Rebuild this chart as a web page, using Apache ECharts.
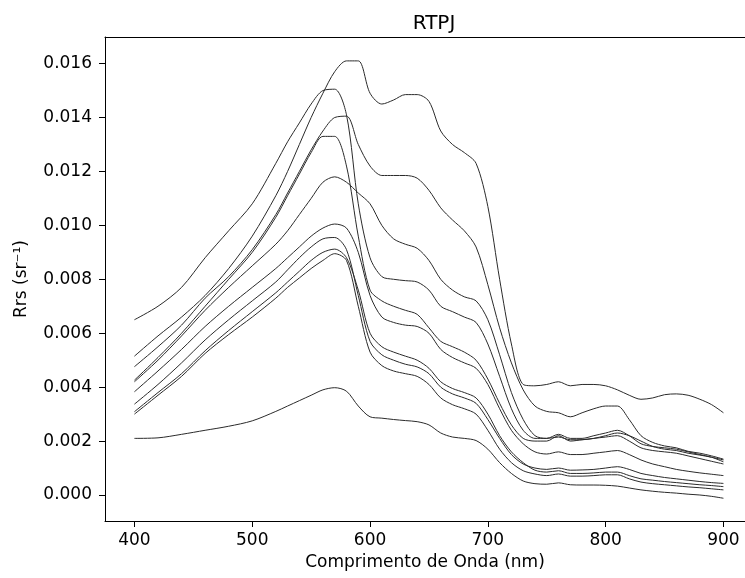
<!DOCTYPE html>
<html>
<head>
<meta charset="utf-8">
<script src="https://cdn.jsdelivr.net/npm/echarts@6/dist/echarts.min.js"></script>
<style>
  html, body { margin: 0; padding: 0; background: #fff; }
  #chart { width: 745px; height: 578px; }
</style>
</head>
<body>
<div id="chart"></div>
<script>
// wavelengths (nm) shared by every spectrum
const wavelengths = [400, 420, 440, 460, 480, 500,
  520, 530, 540, 550, 560, 570, 580, 590, 600, 610, 620, 630, 640, 650,
  660, 670, 680, 690, 700, 710, 720, 730, 740, 750, 760, 770, 780, 790,
  800, 810, 820, 830, 840, 850, 860, 870, 880, 890, 900];

// Rrs (sr^-1) per station
const rrs1 = [0.00515, 0.0059, 0.0066, 0.0074, 0.0084, 0.0096,
  0.0111, 0.0120, 0.0130, 0.0140, 0.0149, 0.0157, 0.0161, 0.0161, 0.0149, 0.0145, 0.01465, 0.01485, 0.01485, 0.0146,
  0.0135, 0.0130, 0.0127, 0.0123, 0.0107, 0.0080, 0.0056, 0.0041, 0.00405, 0.0041, 0.0042, 0.00405, 0.0041, 0.0041,
  0.00405, 0.0039, 0.0037, 0.00355, 0.0036, 0.00372, 0.00375, 0.0037, 0.00355, 0.00335, 0.00305];
const rrs2 = [0.0065, 0.0070, 0.0077, 0.0088, 0.0098, 0.0108,
  0.0123, 0.0131, 0.0138, 0.0145, 0.0150, 0.01505, 0.0141, 0.0108, 0.0088, 0.0081, 0.0080, 0.00795, 0.0079, 0.0076,
  0.0070, 0.0068, 0.0066, 0.0064, 0.0056, 0.0044, 0.0032, 0.0024, 0.0021, 0.0021, 0.00225, 0.0021, 0.0021, 0.0022,
  0.0023, 0.0024, 0.0022, 0.0019, 0.0018, 0.00175, 0.0017, 0.0016, 0.0015, 0.0014, 0.00123];
const rrs3 = [0.00476, 0.0055, 0.0063, 0.0073, 0.0081, 0.0091,
  0.0104, 0.0112, 0.0120, 0.0128, 0.0135, 0.0140, 0.01405, 0.0130, 0.0122, 0.01185, 0.01185, 0.01185, 0.01175, 0.0113,
  0.01065, 0.0102, 0.0098, 0.0092, 0.0078, 0.0062, 0.0049, 0.0039, 0.0033, 0.0031, 0.00305, 0.0029, 0.00305, 0.0032,
  0.0033, 0.0033, 0.0028, 0.0022, 0.00195, 0.00182, 0.00175, 0.00162, 0.00155, 0.00145, 0.00133];
const rrs4 = [0.00426, 0.0051, 0.0060, 0.0070, 0.0080, 0.0090,
  0.0103, 0.0111, 0.0119, 0.0127, 0.0133, 0.0133, 0.0122, 0.0096, 0.0076, 0.0072, 0.0070, 0.00685, 0.0067, 0.0062,
  0.0057, 0.0055, 0.0053, 0.0050, 0.0043, 0.0034, 0.0026, 0.0021, 0.0020, 0.0020, 0.0022, 0.0020, 0.00205, 0.0021,
  0.00215, 0.0022, 0.0020, 0.00175, 0.00165, 0.0016, 0.00155, 0.00145, 0.00135, 0.00125, 0.00115];
const rrs5 = [0.0042, 0.0050, 0.0059, 0.00685, 0.0077, 0.0085,
  0.0093, 0.0098, 0.0104, 0.0110, 0.0116, 0.0118, 0.0116, 0.0112, 0.0108, 0.0100, 0.0095, 0.0093, 0.00915, 0.0087,
  0.0080, 0.0076, 0.00735, 0.0072, 0.0065, 0.0052, 0.0038, 0.0028, 0.0022, 0.0021, 0.00215, 0.00205, 0.00205, 0.0021,
  0.0022, 0.0023, 0.0022, 0.0020, 0.0018, 0.0017, 0.00165, 0.00155, 0.00148, 0.0014, 0.0013];
const rrs6 = [0.00383, 0.0046, 0.0054, 0.00625, 0.0070, 0.0077,
  0.0084, 0.0088, 0.0092, 0.0096, 0.0099, 0.01005, 0.0099, 0.0090, 0.0074, 0.0066, 0.0064, 0.0063, 0.00625, 0.0060,
  0.0054, 0.0051, 0.0049, 0.0047, 0.0041, 0.0032, 0.0024, 0.0019, 0.0016, 0.00152, 0.0016, 0.0015, 0.0015, 0.00155,
  0.0016, 0.00165, 0.0015, 0.0013, 0.00115, 0.00105, 0.00095, 0.00088, 0.00082, 0.00077, 0.00072];
const rrs7 = [0.00337, 0.0041, 0.0049, 0.00575, 0.0065, 0.0072,
  0.0079, 0.00835, 0.0088, 0.0092, 0.0095, 0.00955, 0.0091, 0.0074, 0.0057, 0.0052, 0.0050, 0.00485, 0.00475, 0.0045,
  0.0040, 0.00375, 0.0036, 0.0034, 0.0028, 0.0021, 0.0015, 0.00115, 0.0010, 0.00095, 0.0010, 0.00092, 0.00093, 0.00095,
  0.0010, 0.00105, 0.00095, 0.0008, 0.00072, 0.00065, 0.0006, 0.00055, 0.0005, 0.00046, 0.00043];
const rrs8 = [0.00309, 0.0038, 0.0045, 0.00535, 0.0061, 0.0068,
  0.0075, 0.0079, 0.0083, 0.0087, 0.0090, 0.00912, 0.0088, 0.0076, 0.0060, 0.0055, 0.0053, 0.00515, 0.0050, 0.0047,
  0.0042, 0.00395, 0.0038, 0.0036, 0.0030, 0.0022, 0.0016, 0.0012, 0.00092, 0.00085, 0.0009, 0.0008, 0.0008, 0.00082,
  0.00085, 0.00085, 0.00072, 0.0006, 0.00055, 0.0005, 0.00046, 0.00042, 0.00038, 0.00035, 0.00031];
const rrs9 = [0.0030, 0.0037, 0.0044, 0.00525, 0.00595, 0.0066,
  0.0073, 0.0077, 0.00805, 0.0084, 0.0087, 0.00895, 0.0087, 0.0070, 0.0053, 0.0048, 0.0046, 0.0045, 0.0044, 0.0041,
  0.0036, 0.00335, 0.0032, 0.0030, 0.0024, 0.0017, 0.0012, 0.0009, 0.00078, 0.00072, 0.00078, 0.0007, 0.0007, 0.00072,
  0.00075, 0.00075, 0.0006, 0.00048, 0.00042, 0.00038, 0.00034, 0.0003, 0.00027, 0.00023, 0.00019];
const rrs10 = [0.0021, 0.00212, 0.00225, 0.0024, 0.00255, 0.00275,
  0.0031, 0.0033, 0.0035, 0.0037, 0.0039, 0.00398, 0.00385, 0.0033, 0.0029, 0.00285, 0.0028, 0.00276, 0.00272, 0.0026,
  0.0023, 0.00215, 0.0021, 0.00202, 0.0017, 0.0012, 0.0008, 0.00052, 0.00042, 0.0004, 0.00045, 0.00038, 0.00037, 0.00037,
  0.00036, 0.00033, 0.00026, 0.00019, 0.00014, 0.0001, 0.00007, 0.00003, 0.0, -0.00005, -0.00012];

const spectra = [rrs1, rrs2, rrs3, rrs4, rrs5, rrs6, rrs7, rrs8, rrs9, rrs10];

const xTicks = [400, 500, 600, 700, 800, 900];
const yTicks = [0, 0.002, 0.004, 0.006, 0.008, 0.010, 0.012, 0.014, 0.016];

const font = 'DejaVu Sans';
const chart = echarts.init(document.getElementById('chart'));

// the x range is cut at the window edge (frame's right side lies outside the picture)
const xMin = 375, xMax = 918.3;

chart.setOption({
  animation: false,
  title: {
    text: 'RTPJ',
    left: 429,
    top: 9,
    textAlign: 'center',
    textStyle: { fontFamily: font, fontSize: 20, fontWeight: 'normal', color: '#000' }
  },
  grid: { left: 105, right: 0, top: 37, bottom: 57 },
  xAxis: [{
    type: 'value',
    min: xMin,
    max: xMax,
    name: 'Comprimento de Onda (nm)',
    nameLocation: 'middle',
    nameGap: 33,
    nameTextStyle: { fontFamily: font, fontSize: 17, color: '#000' },
    axisLine: { onZero: false, lineStyle: { color: '#000', width: 1 } },
    axisTick: { customValues: xTicks, length: 6, lineStyle: { color: '#000' } },
    axisLabel: { customValues: xTicks, margin: 11, fontFamily: font, fontSize: 17, color: '#000' },
    splitLine: { show: false }
  }, {
    // top frame line only
    type: 'value',
    position: 'top',
    min: xMin,
    max: xMax,
    axisLine: { onZero: false, lineStyle: { color: '#000', width: 1 } },
    axisTick: { show: false },
    axisLabel: { show: false },
    splitLine: { show: false }
  }],
  yAxis: {
    type: 'value',
    min: -0.000964,
    max: 0.016986,
    name: 'Rrs (sr⁻¹)',
    nameLocation: 'middle',
    nameGap: 75,
    nameTextStyle: { fontFamily: font, fontSize: 17, color: '#000' },
    axisLine: { show: true, onZero: false, lineStyle: { color: '#000', width: 1 } },
    axisTick: { show: true, customValues: yTicks, length: 6, lineStyle: { color: '#000' } },
    axisLabel: {
      customValues: yTicks, margin: 13, fontFamily: font, fontSize: 17, color: '#000',
      formatter: v => v.toFixed(3)
    },
    splitLine: { show: false }
  },
  series: spectra.map((s, k) => ({
    name: 'S' + (k + 1),
    type: 'line',
    data: wavelengths.map((w, i) => [w, s[i]]),
    showSymbol: false,
    smooth: 0.3,
    lineStyle: { color: '#2a2a2a', width: 1 }
  }))
});
</script>
</body>
</html>
